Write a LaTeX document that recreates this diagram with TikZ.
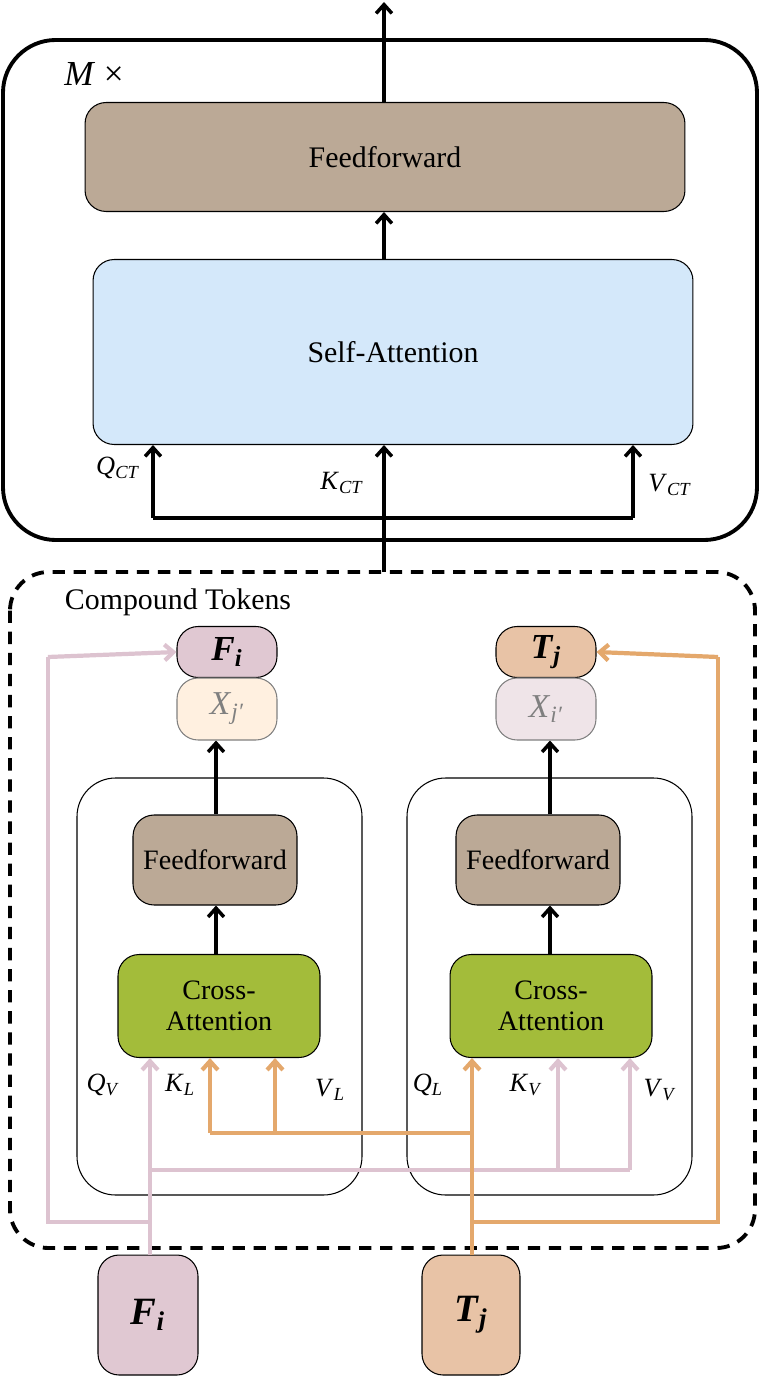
\documentclass[tikz,border=0pt]{standalone}
\usepackage{fontspec}
\setmainfont{Liberation Serif}
\usetikzlibrary{arrows.meta,calc}
\definecolor{ffbrown}{HTML}{BBA996}
\definecolor{sablue}{HTML}{D4E8FA}
\definecolor{cagreen}{HTML}{A3BC3A}
\definecolor{lnpink}{HTML}{DDC3D0}
\definecolor{lnorange}{HTML}{E4A86C}
\definecolor{fipink}{HTML}{E0C8D2}
\definecolor{tjpeach}{HTML}{E8C3A6}
\newcommand{\tok}[2]{\textit{#1}\textsubscript{\textit{#2}}}
\tikzset{
  blk/.style={draw, rounded corners=12pt, line width=0.6pt, align=center, inner sep=0pt},
  arr/.style={-{Straight Barb[length=5pt,width=9pt]}, line width=2pt},
  parr/.style={arr, lnpink, line width=2.4pt},
  oarr/.style={arr, lnorange, line width=2.4pt},
  lbl/.style={font=\fontsize{15}{15}\selectfont},
}
\begin{document}
\begin{tikzpicture}[x=0.02cm, y=-0.02cm]
        \useasboundingbox (0,0) rectangle (761,1398);
        % top block
        \draw[line width=2.2pt, rounded corners=30pt] (3,40) rectangle (757,540);
        \node[font=\fontsize{20}{20}\selectfont] (mx) at (94,74) {\textit{M} ×};
        \node[blk, fill=ffbrown, minimum width=12cm, minimum height=2.18cm, font=\fontsize{17}{17}\selectfont] (ffT) at (385,157) {Feedforward};
        \node[blk, fill=sablue, minimum width=12cm, minimum height=3.7cm, font=\fontsize{17}{17}\selectfont] (sa) at (393,352) {Self-Attention};
        \coordinate (out) at (384,2);
        \draw[arr] (ffT.north -| out) -- (out);
        \draw[arr] (sa.north -| out) -- (ffT.south -| out);
        \coordinate (qct) at (153,518);
        \coordinate (vct) at (633,518);
        \coordinate (ctin) at (384,572);
        \draw[line width=2pt] (qct) -- (vct);
        \draw[arr] (qct) -- (sa.south -| qct);
        \draw[arr] (vct) -- (sa.south -| vct);
        \draw[arr] (ctin) -- (sa.south -| ctin);
        \node[lbl] (lqct) at (118,468) {\tok{Q}{CT}};
        \node[lbl] (lkct) at (342,483) {\tok{K}{CT}};
        \node[lbl] (lvct) at (670,485) {\tok{V}{CT}};
        % compound tokens
        \draw[line width=2.2pt, dashed, dash pattern=on 7pt off 5pt, rounded corners=22pt] (10,572) rectangle (755,1248);
        \node[font=\fontsize{17}{17}\selectfont] (ct) at (178,602) {Compound Tokens};
        \draw[line width=0.6pt, rounded corners=22pt] (77,778) rectangle (362,1195);
        \draw[line width=0.6pt, rounded corners=22pt] (407,778) rectangle (692,1195);
        \node[blk, fill=fipink, minimum width=2cm, minimum height=1.02cm, font=\fontsize{20}{20}\selectfont\bfseries] (fiT) at (227,652) {\tok{F}{i}};
        \node[blk, fill=orange!12, draw=gray, text=gray, minimum width=2cm, minimum height=1.24cm, font=\fontsize{19}{19}\selectfont] (xj) at (227,709) {\textit{X}\textsubscript{\textit{j′}}};
        \node[blk, fill=tjpeach, minimum width=2cm, minimum height=1.02cm, font=\fontsize{20}{20}\selectfont\bfseries] (tjT) at (546,652) {\tok{T}{j}};
        \node[blk, fill=fipink!50, draw=gray, text=gray, minimum width=2cm, minimum height=1.24cm, font=\fontsize{19}{19}\selectfont] (xi) at (546,709) {\textit{X}\textsubscript{\textit{i′}}};
        \node[blk, fill=ffbrown, minimum width=3.28cm, minimum height=1.8cm, font=\fontsize{16}{16}\selectfont] (ffL) at (215,860) {Feedforward};
        \node[blk, fill=ffbrown, minimum width=3.28cm, minimum height=1.8cm, font=\fontsize{16}{16}\selectfont] (ffR) at (538,860) {Feedforward};
        \node[blk, fill=cagreen, minimum width=4.04cm, minimum height=2.06cm, font=\fontsize{16}{18}\selectfont] (caL) at (219,1006) {Cross-\\Attention};
        \node[blk, fill=cagreen, minimum width=4.04cm, minimum height=2.06cm, font=\fontsize{16}{18}\selectfont] (caR) at (551,1006) {Cross-\\Attention};
        \draw[arr] (caL.north -| 216,0) -- (ffL.south -| 216,0);
        \draw[arr] (ffL.north -| 216,0) -- (xj.south -| 216,0);
        \draw[arr] (caR.north -| 550,0) -- (ffR.south -| 550,0);
        \draw[arr] (ffR.north -| 550,0) -- (xi.south -| 550,0);
        % inputs
        \node[blk, fill=fipink, minimum width=2cm, minimum height=2.4cm, font=\fontsize{22}{22}\selectfont\bfseries] (fiB) at (148,1315) {\tok{F}{i}};
        \node[blk, fill=tjpeach, minimum width=1.96cm, minimum height=2.4cm, font=\fontsize{22}{22}\selectfont\bfseries] (tjB) at (471,1315) {\tok{T}{j}};
        \coordinate (pb) at (150,1222);
        \coordinate (ob) at (472,1222);
        \draw[lnpink, line width=2.4pt] (150,1255) -- (150,1170) -- (630,1170);
        \draw[lnpink, line width=2.4pt] (150,1255) -- (pb) -- (48,1222) -- (48,657);
        \draw[parr] (48,657) -- (fiT.west);
        \draw[parr] (150,1170) -- (caL.south -| 150,0);
        \draw[parr] (558,1170) -- (caR.south -| 558,0);
        \draw[parr] (630,1170) -- (caR.south -| 630,0);
        \draw[lnorange, line width=2.4pt] (472,1255) -- (ob) -- (718,1222) -- (718,657);
        \draw[oarr] (718,657) -- (tjT.east);
        \draw[lnorange, line width=2.4pt] (472,1133) -- (210,1133);
        \draw[oarr] (472,1255) -- (caR.south -| 472,0);
        \draw[oarr] (210,1133) -- (caL.south -| 210,0);
        \draw[oarr] (275,1133) -- (caL.south -| 275,0);
        \node[lbl] (lqv) at (103,1085) {\tok{Q}{V}};
        \node[lbl] (lkl) at (180,1085) {\tok{K}{L}};
        \node[lbl] (lvl) at (330,1090) {\tok{V}{L}};
        \node[lbl] (lql) at (428,1085) {\tok{Q}{L}};
        \node[lbl] (lkv) at (526,1085) {\tok{K}{V}};
        \node[lbl] (lvv) at (660,1090) {\tok{V}{V}};
\end{tikzpicture}
\end{document}
